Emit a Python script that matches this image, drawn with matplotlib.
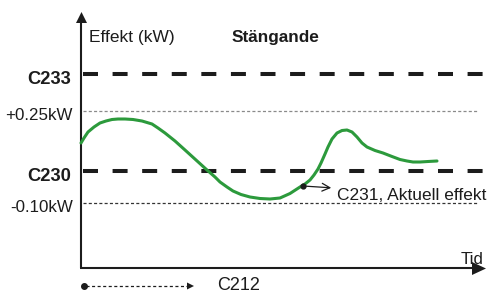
import matplotlib
matplotlib.use("Agg")
import matplotlib.pyplot as plt

plt.rcParams['font.family'] = ['Liberation Sans', 'DejaVu Sans']
plt.rcParams['lines.scale_dashes'] = False

# canvas coordinates (x to the right, y downwards)
curve_x = [81, 84, 88, 94, 100, 106, 112, 118, 125, 133, 142, 152, 158, 165, 175, 185, 196,
           207, 215, 220, 227, 233, 241, 250, 260, 270, 280, 290, 300, 305, 310, 314, 318,
           321, 325, 328, 332, 337, 342, 347, 352, 357, 362, 367, 375, 383, 392, 400, 407,
           413, 420, 428, 437]
curve_y = [143, 138, 132, 127, 123, 121, 119.5, 119, 119, 119.5, 121, 124, 128, 133, 141, 150, 160,
           170, 177, 182, 187, 191, 194.5, 197, 198.5, 199, 198, 193.5, 187, 184, 180, 175, 169,
           163, 154, 147, 139, 133, 130.5, 130, 132, 137, 143, 147, 150.5, 153, 156.5, 159.5, 161,
           162, 162, 161.5, 161]

level_names = ['C233', 'C230']
level_y = [74, 171]
limit_names = ['+0.25kW', '-0.10kW']
limit_y = [111, 203]
limit_colors = ['#8a8a8a', '#333333']

ink = '#1c1c1c'
green = '#2c9a3c'

fig = plt.figure(figsize=(4.89, 2.92), dpi=100)
ax = fig.add_axes([0, 0, 1, 1])
ax.set_xlim(0, 489)
ax.set_ylim(292, 0)
ax.axis('off')

# axes with arrows
ax.plot([81, 81], [268, 22], color=ink, lw=1.5, solid_capstyle='butt')
ax.plot([80.2, 474], [268, 268], color=ink, lw=1.5, solid_capstyle='butt')
ax.fill([76, 87, 81.5], [23, 23, 12], color=ink, lw=0)
ax.fill([472, 472, 486], [262, 275, 268.5], color=ink, lw=0)

# dashed levels
for name, y in zip(level_names, level_y):
    ax.plot([83, 486], [y, y], color=ink, lw=2.9, dashes=(10.8, 10.5), solid_capstyle='butt',
            dash_capstyle='butt')
    ax.text(71, y + 10, name, ha='right', va='baseline', fontsize=13.2, fontweight='bold', color=ink)

# dotted limits
for name, y, c in zip(limit_names, limit_y, limit_colors):
    ax.plot([83, 477], [y, y], color=c, lw=0.9, dashes=(2.2, 1.6), dash_capstyle='butt')
    ax.text(73, y + 9.5, name, ha='right', va='baseline', fontsize=12.2, color=ink)

# actual power curve
ax.plot(curve_x, curve_y, color=green, lw=2.2, solid_capstyle='round', solid_joinstyle='round')

# texts
ax.text(89, 42, 'Effekt (kW)', ha='left', va='baseline', fontsize=12.5, color=ink)
ax.text(232, 42, 'Stängande', ha='left', va='baseline', fontsize=12.4, fontweight='bold', color=ink)
ax.text(461, 264, 'Tid', ha='left', va='baseline', fontsize=12.2, color=ink)

# C231 annotation
ax.plot([303], [186], marker='o', ms=3.5, color=ink)
ax.annotate('', xy=(334, 188), xytext=(303, 186),
            arrowprops=dict(arrowstyle='->', color=ink, lw=0.9, mutation_scale=14))
ax.text(337, 200, 'C231, Aktuell effekt', ha='left', va='baseline', fontsize=12.5, color=ink)

# C212 delay arrow
ax.plot([84], [286], marker='o', ms=4, color=ink)
ax.plot([86, 188], [286, 286], color=ink, lw=0.9, dashes=(2.2, 1.8))
ax.fill([187, 187, 194], [282.5, 289.5, 286], color=ink, lw=0)
ax.text(217, 289.5, 'C212', ha='left', va='baseline', fontsize=13, color=ink)

fig.savefig('out.png', dpi=100)
